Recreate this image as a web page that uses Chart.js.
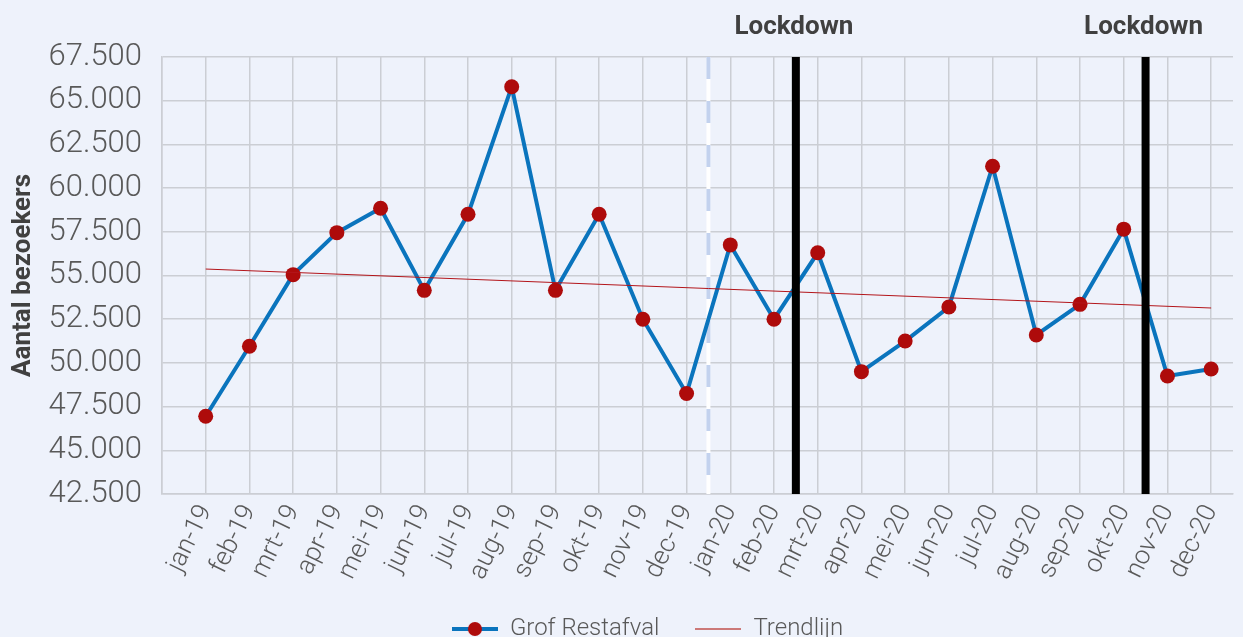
<!DOCTYPE html>
<html>
<head>
<meta charset="utf-8">
<script src="https://cdn.jsdelivr.net/npm/chart.js@4"></script>
<style>
  html, body { margin: 0; padding: 0; background: #EEF2FB; }
  #wrap { width: 1243px; height: 637px; }
</style>
</head>
<body>
<div id="wrap"><canvas id="lineChart"></canvas></div>
<script>
const months = ["jan-19","feb-19","mrt-19","apr-19","mei-19","jun-19","jul-19","aug-19","sep-19","okt-19","nov-19","dec-19",
                "jan-20","feb-20","mrt-20","apr-20","mei-20","jun-20","jul-20","aug-20","sep-20","okt-20","nov-20","dec-20"];
const grofRestafval = [46950,50950,55050,57450,58850,54150,58500,65800,54150,58500,52500,48250,
                       56750,52500,56300,49500,51250,53200,61250,51600,53350,57650,49250,49650];
// trendline: start and end value
const trendStart = 55370;
const trendEnd = 53140;
const yTicks = [42500,45000,47500,50000,52500,55000,57500,60000,62500,65000,67500];
// vertical markers sit between two months
const yearBreak = 11.5;
const lockdowns = [13.5, 21.5];
const lockdownLabel = "Lockdown";

const nf = new Intl.NumberFormat('nl-NL');

function legendIcon(lineColor, lineWidth, dotColor) {
    const c = document.createElement('canvas');
    c.width = 46; c.height = 16;
    const ctx = c.getContext('2d');
    ctx.strokeStyle = lineColor;
    ctx.lineWidth = lineWidth;
    ctx.beginPath(); ctx.moveTo(0, 8); ctx.lineTo(46, 8); ctx.stroke();
    if (dotColor) {
        ctx.fillStyle = dotColor;
        ctx.beginPath(); ctx.arc(23, 8, 7, 0, Math.PI * 2); ctx.fill();
    }
    return c;
}

const markers = {
    id: 'markers',
    afterLayout(chart) {
        // move legend a bit down/right like the original
        chart.legend.top += 14; chart.legend.bottom += 14;
        chart.legend.left += 31; chart.legend.right += 31;
        // let the rotated month labels run past the axis box (no clipping)
        chart.scales.x.bottom = chart.height;
    },
    beforeDatasetsDraw(chart) {
        const {ctx, chartArea, scales: {x}} = chart;
        const px = x.getPixelForValue(yearBreak);
        ctx.save();
        ctx.lineWidth = 4;
        ctx.strokeStyle = '#FFFFFF';
        ctx.beginPath(); ctx.moveTo(px, chartArea.top); ctx.lineTo(px, chartArea.bottom); ctx.stroke();
        ctx.strokeStyle = '#C3D2EE';
        ctx.setLineDash([22, 22]);
        ctx.beginPath(); ctx.moveTo(px, chartArea.top); ctx.lineTo(px, chartArea.bottom); ctx.stroke();
        ctx.restore();
    },
    afterDatasetsDraw(chart) {
        const {ctx, chartArea, scales: {x}} = chart;
        ctx.save();
        lockdowns.forEach(v => {
            const px = x.getPixelForValue(v);
            ctx.lineWidth = 8;
            ctx.strokeStyle = '#000000';
            ctx.beginPath(); ctx.moveTo(px, chartArea.top); ctx.lineTo(px, chartArea.bottom); ctx.stroke();
            ctx.fillStyle = '#404040';
            ctx.font = 'bold 26px Roboto';
            ctx.textAlign = 'center';
            ctx.textBaseline = 'middle';
            ctx.fillText(lockdownLabel, px - 2, 27);
        });
        ctx.restore();
    }
};

new Chart(document.getElementById("lineChart"), {
    type: 'line',
    data: {
        datasets: [{
            label: "Trendlijn",
            data: [{x: 0, y: trendStart}, {x: months.length - 1, y: trendEnd}],
            borderColor: "#B3151A",
            borderWidth: 1,
            pointRadius: 0,
            fill: false,
            order: 1
        }, {
            label: "Grof Restafval",
            data: grofRestafval.map((v, i) => ({x: i, y: v})),
            borderColor: "#0A74BD",
            borderWidth: 4,
            pointRadius: 7.5,
            pointHoverRadius: 7.5,
            pointBackgroundColor: "#AE0B0B",
            pointBorderColor: "#AE0B0B",
            pointBorderWidth: 0,
            fill: false,
            order: 2
        }]
    },
    options: {
        responsive: true,
        maintainAspectRatio: false,
        animation: false,
        layout: { padding: { top: 57, right: 10, left: 0, bottom: 0 } },
        scales: {
            x: {
                type: 'linear',
                min: -1,
                max: months.length - 0.5,
                afterBuildTicks(scale) {
                    scale.ticks = [];
                    for (let i = -1; i < months.length; i++) scale.ticks.push({value: i});
                },
                afterFit(scale) {
                    scale.height = 73;
                    scale.paddingLeft = 0;
                    scale.paddingRight = 0;
                },
                ticks: {
                    autoSkip: false,
                    maxRotation: 64,
                    minRotation: 64,
                    padding: 6,
                    color: '#595959',
                    font: { family: 'Roboto', size: 26, weight: 300 },
                    callback: v => months[v] ?? ''
                },
                grid: { color: '#CBCED4', lineWidth: 1.5, drawTicks: false },
                border: { color: '#CBCED4', width: 1.5 }
            },
            y: {
                min: 42500,
                max: 67500,
                afterBuildTicks(scale) { scale.ticks = yTicks.map(v => ({value: v})); },
                afterFit(scale) { scale.width = 162; },
                ticks: {
                    padding: 20,
                    color: '#595959',
                    font: { family: 'Roboto', size: 31, weight: 300 },
                    callback: v => nf.format(v)
                },
                grid: { color: '#CBCED4', lineWidth: 1.5, drawTicks: false },
                border: { color: '#CBCED4', width: 1.5 },
                title: {
                    display: true,
                    text: 'Aantal bezoekers',
                    color: '#404040',
                    font: { family: 'Roboto', size: 26, weight: 'bold' },
                    padding: { top: 8, bottom: 0 }
                }
            }
        },
        plugins: {
            legend: {
                position: 'bottom',
                labels: {
                    usePointStyle: true,
                    pointStyleWidth: 46,
                    padding: 36,
                    color: '#595959',
                    font: { family: 'Roboto', size: 24, weight: 300 },
                    generateLabels(chart) {
                        return [
                            { text: 'Grof Restafval', pointStyle: legendIcon('#0A74BD', 4, '#AE0B0B'), fontColor: '#595959', datasetIndex: 1, lineWidth: 0 },
                            { text: 'Trendlijn', pointStyle: legendIcon('#C0504D', 1.5, null), fontColor: '#595959', datasetIndex: 0, lineWidth: 0 }
                        ];
                    }
                }
            },
            tooltip: { enabled: false }
        }
    },
    plugins: [markers]
});
</script>
</body>
</html>
